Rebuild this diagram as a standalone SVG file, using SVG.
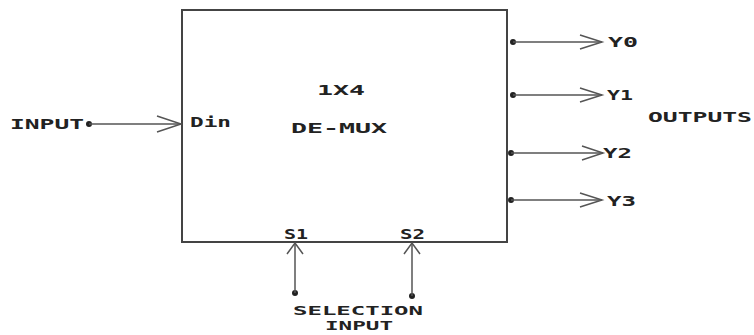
<svg xmlns="http://www.w3.org/2000/svg" width="754" height="335" viewBox="0 0 754 335">
<style>
.t{font-family:"DejaVu Sans Mono","Liberation Mono",monospace;font-weight:bold;font-size:14px;fill:#222}
.s{font-size:12px}
.w{stroke:#555;stroke-width:1.5;fill:none}
.h{stroke:#555;stroke-width:1.5;fill:none;stroke-linejoin:miter}
.d{fill:#222}
</style>
<rect width="754" height="335" fill="#fff"/>
<g id="demux">
<rect x="182" y="10" width="325" height="232" fill="none" stroke="#444" stroke-width="2"/>
<text class="t" x="317" y="95" textLength="48" lengthAdjust="spacingAndGlyphs">1X4</text>
<text class="t" x="291" y="133" textLength="96" lengthAdjust="spacingAndGlyphs">DE-MUX</text>
<text class="t" x="190" y="127" textLength="41" lengthAdjust="spacingAndGlyphs">Din</text>
<text class="t" x="284" y="239" textLength="24" lengthAdjust="spacingAndGlyphs">S1</text>
<text class="t" x="400" y="239" textLength="25" lengthAdjust="spacingAndGlyphs">S2</text>
</g>
<g id="input">
<circle class="d" cx="89" cy="124" r="3"/>
<text class="t" x="10" y="129" textLength="74" lengthAdjust="spacingAndGlyphs">INPUT</text>
</g>
<g id="outputs">
<circle class="d" cx="513" cy="42" r="3"/>
<circle class="d" cx="513" cy="95" r="3"/>
<circle class="d" cx="511" cy="153" r="3"/>
<circle class="d" cx="511" cy="200" r="3"/>
<text class="t" x="608" y="47" textLength="30" lengthAdjust="spacingAndGlyphs">Y0</text>
<text class="t" x="607" y="100" textLength="26" lengthAdjust="spacingAndGlyphs">Y1</text>
<text class="t" x="603" y="158" textLength="29" lengthAdjust="spacingAndGlyphs">Y2</text>
<text class="t" x="607" y="206" textLength="29" lengthAdjust="spacingAndGlyphs">Y3</text>
<text class="t" x="648" y="122" textLength="104" lengthAdjust="spacingAndGlyphs">OUTPUTS</text>
</g>
<g id="selection">
<circle class="d" cx="295" cy="293" r="3"/>
<circle class="d" cx="412" cy="296" r="3"/>
<text class="t s" x="293" y="315" textLength="130" lengthAdjust="spacingAndGlyphs">SELECTION</text>
<text class="t s" x="325" y="330" textLength="68" lengthAdjust="spacingAndGlyphs">INPUT</text>
</g>
<g id="connectors">
<path class="w" d="M89 124H181"/>
<path class="h" d="M157 116L181 124L157 132"/>
<path class="w" d="M513 42H602"/>
<path class="h" d="M580 35L602 42L580 49"/>
<path class="w" d="M513 95H602"/>
<path class="h" d="M580 88L602 95L580 102"/>
<path class="w" d="M511 153H603"/>
<path class="h" d="M582 146L603 153L582 160"/>
<path class="w" d="M511 200H602"/>
<path class="h" d="M580 193L602 200L580 207"/>
<path class="w" d="M295 293V243"/>
<path class="h" d="M287 254L295 243L303 254"/>
<path class="w" d="M412 296V243"/>
<path class="h" d="M404 254L412 243L420 254"/>
</g>
</svg>
